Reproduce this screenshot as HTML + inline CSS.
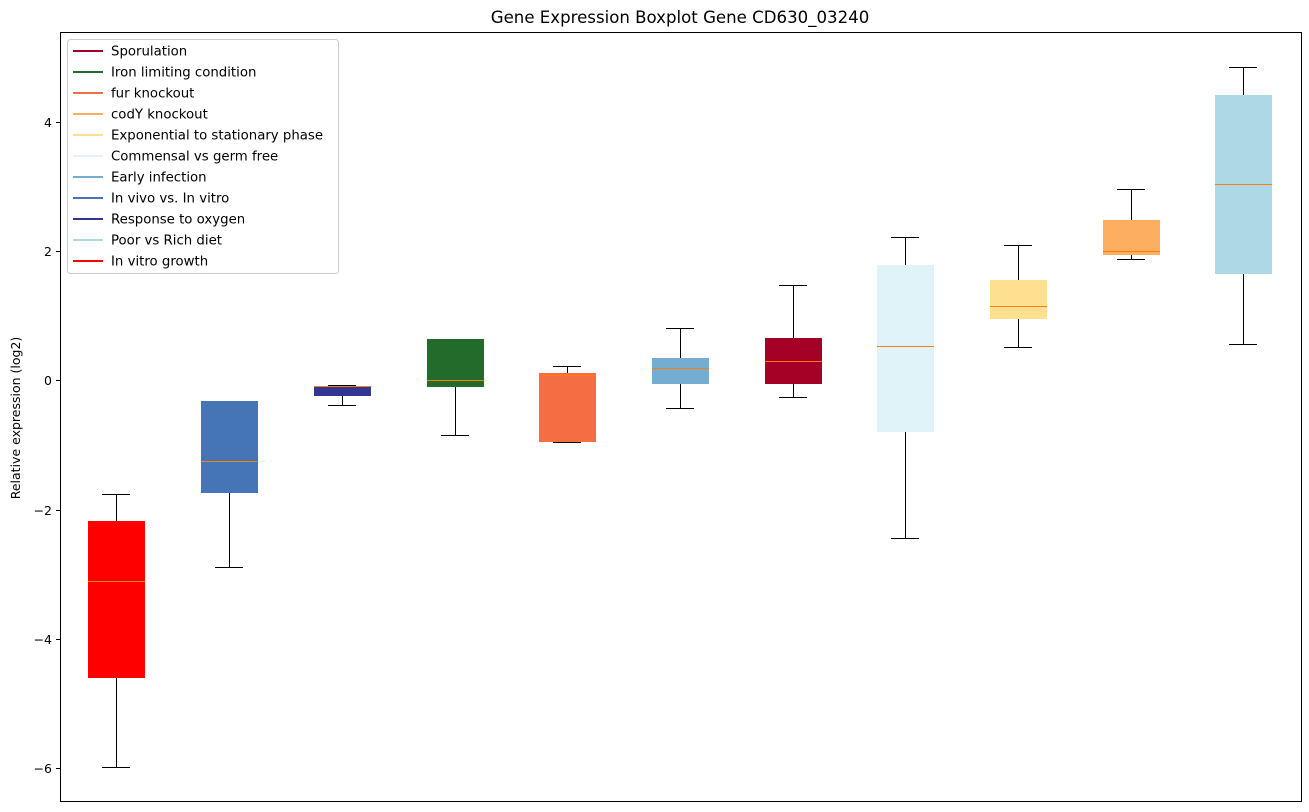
<!DOCTYPE html>
<html><head><meta charset="utf-8"><style>body{margin:0;background:#fff}svg{display:block;font-family:"DejaVu Sans","Liberation Sans",sans-serif}</style></head><body>
<svg width="1309" height="812" xmlns="http://www.w3.org/2000/svg">
<rect width="1309" height="812" fill="#fff"/>
<text x="680" y="23" font-size="16.6" text-anchor="middle">Gene Expression Boxplot Gene CD630_03240</text>
<g stroke="#000" stroke-width="1">
<line x1="116.5" y1="494.5" x2="116.5" y2="521"/><line x1="116.5" y1="678" x2="116.5" y2="767.5"/><line x1="102" y1="494.5" x2="130" y2="494.5"/><line x1="102" y1="767.5" x2="130" y2="767.5"/>
<rect x="88" y="521" width="57" height="157" fill="#ff0000" stroke="none"/>
<line x1="215" y1="401.5" x2="243" y2="401.5"/><line x1="229.5" y1="493" x2="229.5" y2="567.5"/><line x1="215" y1="567.5" x2="243" y2="567.5"/>
<rect x="201" y="401" width="57" height="92" fill="#4575b4" stroke="none"/>
<line x1="328" y1="385.5" x2="356" y2="385.5"/><line x1="342.5" y1="396" x2="342.5" y2="405.5"/><line x1="328" y1="405.5" x2="356" y2="405.5"/>
<rect x="314" y="386" width="57" height="10" fill="#313695" stroke="none"/>
<line x1="441" y1="339.5" x2="469" y2="339.5"/><line x1="455.5" y1="387" x2="455.5" y2="435.5"/><line x1="441" y1="435.5" x2="469" y2="435.5"/>
<rect x="427" y="339" width="57" height="48" fill="#236b2b" stroke="none"/>
<line x1="567.5" y1="366.5" x2="567.5" y2="373"/><line x1="553" y1="366.5" x2="581" y2="366.5"/><line x1="553" y1="442.5" x2="581" y2="442.5"/>
<rect x="539" y="373" width="57" height="69" fill="#f46d43" stroke="none"/>
<line x1="680.5" y1="328.5" x2="680.5" y2="358"/><line x1="680.5" y1="384" x2="680.5" y2="408.5"/><line x1="666" y1="328.5" x2="694" y2="328.5"/><line x1="666" y1="408.5" x2="694" y2="408.5"/>
<rect x="652" y="358" width="57" height="26" fill="#74add1" stroke="none"/>
<line x1="793.5" y1="285.5" x2="793.5" y2="338"/><line x1="793.5" y1="384" x2="793.5" y2="397.5"/><line x1="779" y1="285.5" x2="807" y2="285.5"/><line x1="779" y1="397.5" x2="807" y2="397.5"/>
<rect x="765" y="338" width="57" height="46" fill="#a50026" stroke="none"/>
<line x1="905.5" y1="237.5" x2="905.5" y2="265"/><line x1="905.5" y1="432" x2="905.5" y2="538.5"/><line x1="891" y1="237.5" x2="919" y2="237.5"/><line x1="891" y1="538.5" x2="919" y2="538.5"/>
<rect x="877" y="265" width="57" height="167" fill="#e0f3f8" stroke="none"/>
<line x1="1018.5" y1="245.5" x2="1018.5" y2="280"/><line x1="1018.5" y1="319" x2="1018.5" y2="347.5"/><line x1="1004" y1="245.5" x2="1032" y2="245.5"/><line x1="1004" y1="347.5" x2="1032" y2="347.5"/>
<rect x="990" y="280" width="57" height="39" fill="#fee090" stroke="none"/>
<line x1="1131.5" y1="189.5" x2="1131.5" y2="220"/><line x1="1131.5" y1="255" x2="1131.5" y2="259.5"/><line x1="1117" y1="189.5" x2="1145" y2="189.5"/><line x1="1117" y1="259.5" x2="1145" y2="259.5"/>
<rect x="1103" y="220" width="57" height="35" fill="#fdae61" stroke="none"/>
<line x1="1243.5" y1="67.5" x2="1243.5" y2="95"/><line x1="1243.5" y1="274" x2="1243.5" y2="344.5"/><line x1="1229" y1="67.5" x2="1257" y2="67.5"/><line x1="1229" y1="344.5" x2="1257" y2="344.5"/>
<rect x="1215" y="95" width="57" height="179" fill="#add8e6" stroke="none"/>
</g>
<g stroke="#ff7f0e" stroke-width="1">
<line x1="88" y1="581.5" x2="145" y2="581.5"/><line x1="201" y1="461.5" x2="258" y2="461.5"/><line x1="314" y1="386.5" x2="371" y2="386.5"/><line x1="427" y1="380.5" x2="484" y2="380.5"/><line x1="539" y1="375.5" x2="596" y2="375.5"/><line x1="652" y1="368.5" x2="709" y2="368.5"/><line x1="765" y1="361.5" x2="822" y2="361.5"/><line x1="877" y1="346.5" x2="934" y2="346.5"/><line x1="990" y1="306.5" x2="1047" y2="306.5"/><line x1="1103" y1="251.5" x2="1160" y2="251.5"/><line x1="1215" y1="184.5" x2="1272" y2="184.5"/>
</g>
<rect x="60.5" y="32.5" width="1241" height="769" fill="none" stroke="#000"/>
<g font-size="12.5" text-anchor="end">
<line x1="56" y1="122.5" x2="60" y2="122.5" stroke="#000"/><text x="52" y="127">4</text>
<line x1="56" y1="251.5" x2="60" y2="251.5" stroke="#000"/><text x="52" y="256">2</text>
<line x1="56" y1="380.5" x2="60" y2="380.5" stroke="#000"/><text x="52" y="385">0</text>
<line x1="56" y1="510.5" x2="60" y2="510.5" stroke="#000"/><text x="52" y="515">−2</text>
<line x1="56" y1="639.5" x2="60" y2="639.5" stroke="#000"/><text x="52" y="644">−4</text>
<line x1="56" y1="768.5" x2="60" y2="768.5" stroke="#000"/><text x="52" y="773">−6</text>
</g>
<text x="20" y="418" font-size="12.5" text-anchor="middle" transform="rotate(-90 20 418)">Relative expression (log2)</text>
<rect x="67.5" y="39.5" width="271" height="234" rx="3" fill="#fff" stroke="#ccc"/>
<g font-size="13.3" stroke-width="2">
<line x1="73" y1="51" x2="103" y2="51" stroke="#a50026"/><text x="111" y="55.5">Sporulation</text>
<line x1="73" y1="72" x2="103" y2="72" stroke="#236b2b"/><text x="111" y="76.5">Iron limiting condition</text>
<line x1="73" y1="93" x2="103" y2="93" stroke="#f46d43"/><text x="111" y="97.5">fur knockout</text>
<line x1="73" y1="114" x2="103" y2="114" stroke="#fdae61"/><text x="111" y="118.5">codY knockout</text>
<line x1="73" y1="135" x2="103" y2="135" stroke="#fee090"/><text x="111" y="139.5">Exponential to stationary phase</text>
<line x1="73" y1="156" x2="103" y2="156" stroke="#e0f3f8"/><text x="111" y="160.5">Commensal vs germ free</text>
<line x1="73" y1="177" x2="103" y2="177" stroke="#74add1"/><text x="111" y="181.5">Early infection</text>
<line x1="73" y1="198" x2="103" y2="198" stroke="#4575b4"/><text x="111" y="202.5">In vivo vs. In vitro</text>
<line x1="73" y1="219" x2="103" y2="219" stroke="#313695"/><text x="111" y="223.5">Response to oxygen</text>
<line x1="73" y1="240" x2="103" y2="240" stroke="#add8e6"/><text x="111" y="244.5">Poor vs Rich diet</text>
<line x1="73" y1="261" x2="103" y2="261" stroke="#ff0000"/><text x="111" y="265.5">In vitro growth</text>
</g>
</svg>
</body></html>
